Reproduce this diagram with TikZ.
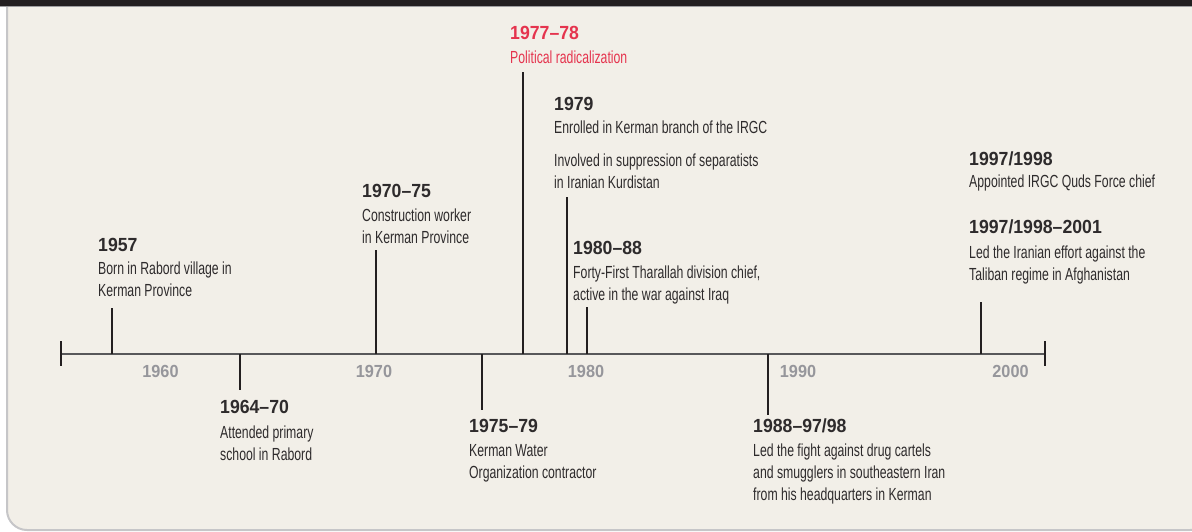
\documentclass[tikz,border=0pt]{standalone}
\usepackage{fontspec}
\setmainfont{Liberation Sans}
\newfontfamily\bodyf{Liberation Sans}[FakeStretch=0.70, Ligatures=TeX]
\newfontfamily\titlef{Liberation Sans}[FakeStretch=0.93, Ligatures=TeX]
\definecolor{panelbg}{HTML}{F2EFE8}
\definecolor{panelborder}{HTML}{C6C6C8}
\definecolor{topbar}{HTML}{231F20}
\definecolor{inkdark}{HTML}{231F20}
\definecolor{bodyink}{HTML}{2E2B2C}
\definecolor{axisgrey}{HTML}{96969B}
\definecolor{axisline}{HTML}{58585A}
\definecolor{hired}{HTML}{E5344E}
\newcommand\evtitle[1]{{\titlef\bfseries\fontsize{19}{22}\selectfont #1}}
\tikzset{
  evtext/.style={anchor=base west, inner sep=0pt, text=bodyink,
    font=\bodyf\fontsize{17.5}{22}\selectfont},
  evline/.style={draw=inkdark, line width=2pt},
  axislab/.style={anchor=base, inner sep=0pt, text=axisgrey,
    font=\titlef\bfseries\fontsize{17.5}{20}\selectfont},
}
\begin{document}
\begin{tikzpicture}[x=1pt,y=-1pt]
\useasboundingbox (0,0) rectangle (1192,531);
\fill[white] (0,0) rectangle (1192,531);
% panel
\draw[fill=panelbg, draw=panelborder, line width=2pt, rounded corners=20pt]
  (7,-20) rectangle (1210,530);
\fill[topbar] (0,0) rectangle (1192,6);
\draw[panelborder!80!black, line width=1pt] (0,6.5) -- (1192,6.5);

% axis
\coordinate (axL) at (61,354);
\coordinate (axR) at (1045,354);
\coordinate (tkLt) at (61,341);
\coordinate (tkLb) at (61,366);
\coordinate (tkRt) at (1045,341);
\coordinate (tkRb) at (1045,366);
\draw[axisline, line width=2pt] (axL) -- (axR);
\draw[inkdark, line width=2pt] (tkLt) -- (tkLb);
\draw[inkdark, line width=2pt] (tkRt) -- (tkRb);

\node[axislab] (y1960) at (160.5,377) {1960};
\node[axislab] (y1970) at (374,377) {1970};
\node[axislab] (y1980) at (586,377) {1980};
\node[axislab] (y1990) at (798,377) {1990};
\node[axislab] (y2000) at (1010.5,377) {2000};

% event connectors
\foreach \nm/\xx/\yy in {1957/112/308, 1964/240/390, 1970/376/250, 1975/482/410,
  1977/523/72, 1979/567/197, 1980/587/307, 1988/768/415, 1998/981/302}{
  \coordinate (a\nm) at (\xx,354);
  \coordinate (e\nm) at (\xx,\yy);
  \draw[evline] (a\nm) -- (e\nm);
}

% event texts
\node[evtext] (t1957) at (98,251) {\begin{tabular}[t]{@{}l@{}}\evtitle{1957}\\[1.5pt]
  Born in Rabord village in\\ Kerman Province\end{tabular}};
\node[evtext] (t1964) at (220,413.5) {\begin{tabular}[t]{@{}l@{}}\evtitle{1964--70}\\[2.5pt]
  Attended primary\\ school in Rabord\end{tabular}};
\node[evtext] (t1970) at (362,197.5) {\begin{tabular}[t]{@{}l@{}}\evtitle{1970--75}\\[1.5pt]
  Construction worker\\ in Kerman Province\end{tabular}};
\node[evtext] (t1975) at (469,432.5) {\begin{tabular}[t]{@{}l@{}}\evtitle{1975--79}\\[1.5pt]
  Kerman Water\\ Organization contractor\end{tabular}};
\node[evtext, text=hired] (t1977) at (510,39.5) {\begin{tabular}[t]{@{}l@{}}\evtitle{1977--78}\\[1.5pt]
  Political radicalization\end{tabular}};
\node[evtext] (t1979) at (554,110.7) {\begin{tabular}[t]{@{}l@{}}\evtitle{1979}\\[0.6pt]
  Enrolled in Kerman branch of the IRGC\\[11.4pt]
  Involved in suppression of separatists\\ in Iranian Kurdistan\end{tabular}};
\node[evtext] (t1980) at (573,254.5) {\begin{tabular}[t]{@{}l@{}}\evtitle{1980--88}\\[2pt]
  Forty-First Tharallah division chief,\\ active in the war against Iraq\end{tabular}};
\node[evtext] (t1988) at (753,432.7) {\begin{tabular}[t]{@{}l@{}}\evtitle{1988--97/98}\\[1.5pt]
  Led the fight against drug cartels\\ and smugglers in southeastern Iran\\
  from his headquarters in Kerman\end{tabular}};
\node[evtext] (t1998) at (969,165) {\begin{tabular}[t]{@{}l@{}}\evtitle{1997/1998}\\[0.7pt]
  Appointed IRGC Quds Force chief\\[23.6pt]
  \evtitle{1997/1998--2001}\\[3pt]
  Led the Iranian effort against the\\ Taliban regime in Afghanistan\end{tabular}};
\end{tikzpicture}
\end{document}
